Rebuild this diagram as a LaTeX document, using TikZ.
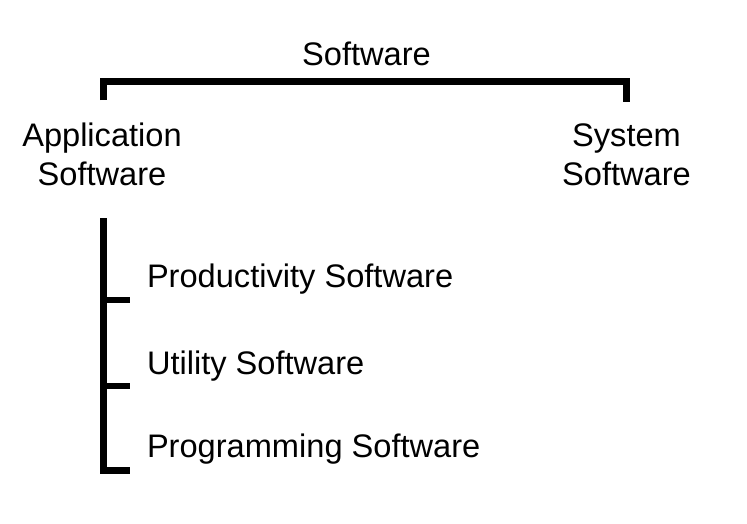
\documentclass[tikz,border=0pt]{standalone}
\usepackage{fontspec}
\setmainfont{Liberation Sans}
\begin{document}
\begin{tikzpicture}[x=1pt,y=-1pt,
  lbl/.style={inner sep=0pt,outer sep=0pt,anchor=base,font=\fontsize{32.6}{39}\selectfont},
  brk/.style={line width=6.5pt,line join=miter,line cap=butt}]
\useasboundingbox (0,0) rectangle (747,523);
% labels
\node[lbl] (root) at (366.5,65) {Software};
\node[lbl,align=center] (app) at (102,185) {Application\\Software};
\node[lbl,align=center] (sys) at (626.5,185) {System\\Software};
\node[lbl,anchor=base west] (prod) at (147,287) {Productivity Software};
\node[lbl,anchor=base west] (util) at (147,374) {Utility Software};
\node[lbl,anchor=base west] (prog) at (147,457) {Programming Software};
% bracket coordinates
\coordinate (tl) at (103.5,100);
\coordinate (tr) at (626.5,102);
\coordinate (top) at (366.5,81.5);
\coordinate (vt) at (103.5,218);
\coordinate (t1) at (130,300);
\coordinate (t2) at (130,386);
\coordinate (t3) at (130,470.5);
% top bracket
\draw[brk] (tl) -- (tl |- top) -- (tr |- top) -- (tr);
% side bracket
\draw[brk] (vt) -- (vt |- t3) -- (t3);
\draw[brk] (vt |- t1) -- (t1);
\draw[brk] (vt |- t2) -- (t2);
\end{tikzpicture}
\end{document}
